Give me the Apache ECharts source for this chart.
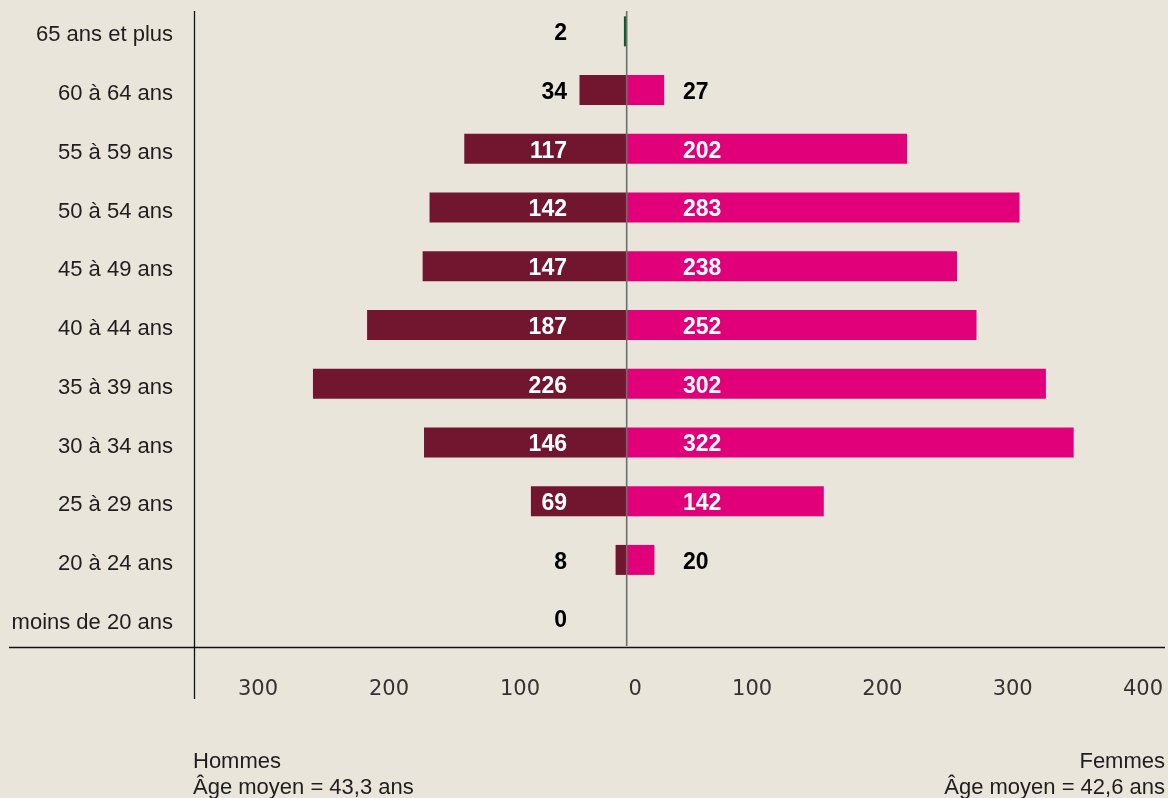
<!DOCTYPE html>
<html>
<head>
<meta charset="utf-8">
<script src="https://cdn.jsdelivr.net/npm/echarts@6/dist/echarts.min.js"></script>
<style>
html,body{margin:0;padding:0;background:#e9e5da;}
#c{width:1168px;height:798px;}
</style>
</head>
<body>
<div id="c"></div>
<script>
// ---- data (bottom row first) ----
const ageGroups = ['moins de 20 ans','20 à 24 ans','25 à 29 ans','30 à 34 ans','35 à 39 ans','40 à 44 ans','45 à 49 ans','50 à 54 ans','55 à 59 ans','60 à 64 ans','65 ans et plus'];
const hommes = [0, 8, 69, 146, 226, 187, 147, 142, 117, 34, 2];
const femmes = [null, 20, 142, 322, 302, 252, 238, 283, 202, 27, null];
const leftTickValues = [300, 200, 100];
const rightTickValues = [0, 100, 200, 300, 400];
const footerHommes = ['Hommes', 'Âge moyen = 43,3 ans'];
const footerFemmes = ['Femmes', 'Âge moyen = 42,6 ans'];

// ---- styles ----
const BG = '#e9e5da';
const C_H = '#72162f';
const C_F = '#e2007a';
const C_SPECIAL = '#0b5a2d';
const FONT = '"Liberation Sans", Arial, Helvetica, sans-serif';
const HOM_LABEL_X = -43;   // label anchor (value units)
const FEM_LABEL_X = 40.6;
const INSIDE_MIN = 50;

const chart = echarts.init(document.getElementById('c'), null, {renderer:'canvas'});

const labelStyle = {fontFamily: FONT, fontSize: 23, fontWeight: 'bold', verticalAlign: 'top', lineHeight: 5};

const homBars = hommes.map((v, i) => ({
  value: -v,
  itemStyle: ageGroups[i] === '65 ans et plus' ? {color: C_SPECIAL} : undefined
}));

const homLabels = hommes.map((v, i) => ({
  value: [HOM_LABEL_X, i],
  label: {color: v >= INSIDE_MIN ? '#ffffff' : '#000000'}
}));
const femLabels = [];
femmes.forEach((v, i) => {
  if (v == null) return;
  femLabels.push({value: [FEM_LABEL_X, i], label: {color: v >= INSIDE_MIN ? '#ffffff' : '#000000'}});
});

const tickLabelStyle = {fontFamily: '"DejaVu Sans", sans-serif', fontSize: 21, color: '#333', lineHeight: 21};

const option = {
  backgroundColor: BG,
  animation: false,
  grid: [
    {left: 194, right: 3, top: 2, bottom: 150},
    {left: 258, width: 393, top: 640, bottom: 151},
    {left: 621.75, width: 521.25, top: 640, bottom: 151}
  ],
  xAxis: [
    {gridIndex: 0, type: 'value', min: -311.7, max: 387.8, show: false, splitLine: {show: false}},
    {gridIndex: 1, type: 'value', min: 0, max: 300, interval: 100, inverse: true,
      axisLine: {show: false}, axisTick: {show: false}, splitLine: {show: false},
      axisLabel: Object.assign({margin: 32, showMinLabel: false, showMaxLabel: true,
        formatter: v => leftTickValues.indexOf(v) >= 0 ? String(v) : ''}, tickLabelStyle)},
    {gridIndex: 2, type: 'value', min: 0, max: 400, interval: 100,
      axisLine: {show: false}, axisTick: {show: false}, splitLine: {show: false},
      axisLabel: Object.assign({margin: 32, showMinLabel: true, showMaxLabel: true,
        formatter: v => rightTickValues.indexOf(v) < 0 ? '' : (v === 0 ? '{z|0}' : String(v)),
        rich: {z: Object.assign({padding: [0, 0, 0, 27]}, tickLabelStyle)}}, tickLabelStyle)}
  ],
  yAxis: [
    {gridIndex: 0, type: 'category', data: ageGroups,
      axisLine: {show: false}, axisTick: {show: false}, splitLine: {show: false},
      axisLabel: {margin: 21, fontFamily: FONT, fontSize: 22, color: '#1e1e1e', verticalAlign: 'top', lineHeight: 8}},
    {gridIndex: 1, type: 'value', show: false},
    {gridIndex: 2, type: 'value', show: false}
  ],
  series: [
    {name: 'Hommes', type: 'bar', xAxisIndex: 0, yAxisIndex: 0, data: homBars,
      barWidth: 30, barGap: '-100%', itemStyle: {color: C_H}, silent: true},
    {name: 'Femmes', type: 'bar', xAxisIndex: 0, yAxisIndex: 0, data: femmes,
      barWidth: 30, barGap: '-100%', itemStyle: {color: C_F}, silent: true},
    {type: 'scatter', xAxisIndex: 0, yAxisIndex: 0, symbolSize: 0, data: homLabels, silent: true, z: 5,
      itemStyle: {opacity: 1},
      label: Object.assign({show: true, position: 'left', distance: 0,
        formatter: p => String(hommes[p.value[1]])}, labelStyle)},
    {type: 'scatter', xAxisIndex: 0, yAxisIndex: 0, symbolSize: 0, data: femLabels, silent: true, z: 5,
      itemStyle: {opacity: 1},
      label: Object.assign({show: true, position: 'right', distance: 0,
        formatter: p => String(femmes[p.value[1]])}, labelStyle)}
  ],
  title: [
    {text: footerHommes.join('\n'), left: 193, top: 749, padding: 0,
      textStyle: {fontFamily: FONT, fontSize: 22, fontWeight: 'normal', color: '#1e1e1e', lineHeight: 26}},
    {text: footerFemmes.join('\n'), left: 1165, top: 749, padding: 0, textAlign: 'right',
      textStyle: {fontFamily: FONT, fontSize: 22, fontWeight: 'normal', color: '#1e1e1e', lineHeight: 26}}
  ]
};

chart.setOption(option);

const x0 = chart.convertToPixel({xAxisIndex: 0}, 0);
chart.setOption({
  graphic: [
    {type: 'line', z: 10, shape: {x1: 194.5, y1: 11, x2: 194.5, y2: 699}, style: {stroke: '#111', lineWidth: 1.3}},
    {type: 'line', z: 10, shape: {x1: 9, y1: 647.5, x2: 1165, y2: 647.5}, style: {stroke: '#111', lineWidth: 1.3}},
    {type: 'line', z: 10, shape: {x1: x0, y1: 11, x2: x0, y2: 646}, style: {stroke: '#6e6e6e', lineWidth: 1.6}}
  ]
});
</script>
</body>
</html>
